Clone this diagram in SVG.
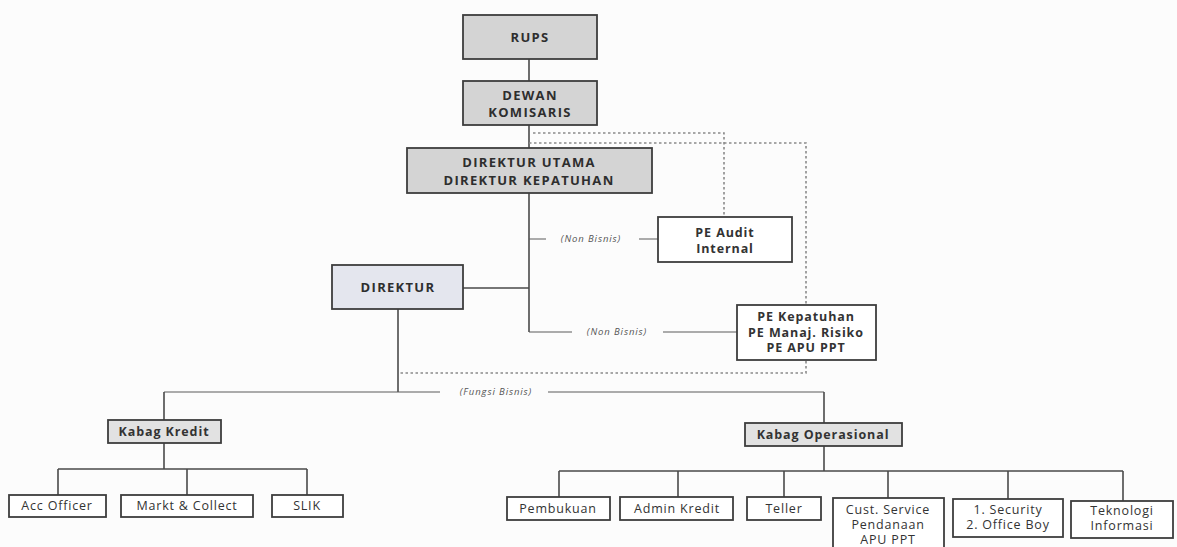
<svg xmlns="http://www.w3.org/2000/svg" width="1177" height="547" viewBox="0 0 1177 547">
<style>
.bg{fill:#fcfcfc}
.box{stroke:#3d3d3d;stroke-width:1.8}
.top{fill:#d4d4d4}
.dir{fill:#e4e6ee}
.kab{fill:#e2e2e2}
.wh{fill:#ffffff}
.ln{fill:none;stroke:#4a4a4a;stroke-width:1.6}
.thin{fill:none;stroke:#5a5a5a;stroke-width:1.1}
.dot{fill:none;stroke:#8a8a8a;stroke-width:1.6;stroke-dasharray:2.5 2.5}
.tb{font-family:"Open Sans","DejaVu Sans",sans-serif;font-weight:bold;font-size:13px;fill:#2e2e2e;text-anchor:middle;letter-spacing:1.3px}
.tt{font-family:"Open Sans","DejaVu Sans",sans-serif;font-weight:bold;font-size:12.5px;fill:#333;text-anchor:middle;letter-spacing:0.9px}
.tr{font-family:"Open Sans","DejaVu Sans",sans-serif;font-size:12.5px;fill:#333;text-anchor:middle;letter-spacing:0.8px}
.ti{font-family:"Open Sans","DejaVu Sans",sans-serif;font-style:italic;font-size:9.5px;fill:#555;text-anchor:middle;letter-spacing:0.9px}
</style>
<rect class="bg" x="0" y="0" width="1177" height="547"/>
<g id="connectors">
<path class="ln" d="M529 59V81M529 125V148M529 193V332"/>
<path class="dot" d="M533 133H724V217"/>
<path class="dot" d="M529 143H806V373H398"/>
<path class="ln" d="M463 288H529"/>
<path class="thin" d="M529 239H546M639 239H658"/>
<path class="thin" d="M529 332H572M663 332H737"/>
<path class="ln" d="M398 309V392"/>
<path class="thin" d="M164 392H440M548 392H824"/>
<path class="ln" d="M164 392V420M824 392V423"/>
<path class="ln" d="M164 443V469M58 469H307M58 469V495M187 469V495M307 469V495"/>
<path class="ln" d="M824 446V471M559 471H1123M559 471V497M678 471V497M784 471V497M888 471V498M1008 471V499M1123 471V501"/>
</g>
<g id="labels">
<text class="ti" x="591" y="242">(Non Bisnis)</text>
<text class="ti" x="617" y="335">(Non Bisnis)</text>
<text class="ti" x="496" y="395">(Fungsi Bisnis)</text>
</g>
<g id="rups"><rect class="box top" x="463" y="15" width="134" height="44"/><text class="tb" x="530" y="42">RUPS</text></g>
<g id="dewan"><rect class="box top" x="463" y="81" width="134" height="44"/><text class="tb" x="530" y="100">DEWAN</text><text class="tb" x="530" y="117">KOMISARIS</text></g>
<g id="dirut"><rect class="box top" x="407" y="148" width="245" height="45"/><text class="tb" x="529" y="167">DIREKTUR UTAMA</text><text class="tb" x="529" y="185">DIREKTUR KEPATUHAN</text></g>
<g id="audit"><rect class="box wh" x="658" y="217" width="134" height="45"/><text class="tt" x="725" y="237">PE Audit</text><text class="tt" x="725" y="253">Internal</text></g>
<g id="direktur"><rect class="box dir" x="332" y="265" width="131" height="44"/><text class="tb" x="398" y="292">DIREKTUR</text></g>
<g id="kepatuhan"><rect class="box wh" x="737" y="305" width="139" height="55"/><text class="tt" x="806" y="321">PE Kepatuhan</text><text class="tt" x="806" y="337">PE Manaj. Risiko</text><text class="tt" x="806" y="352">PE APU PPT</text></g>
<g id="kabag-kredit"><rect class="box kab" x="108" y="420" width="113" height="23"/><text class="tt" x="164" y="436">Kabag Kredit</text></g>
<g id="kabag-operasional"><rect class="box kab" x="745" y="423" width="157" height="23"/><text class="tt" x="823" y="439">Kabag Operasional</text></g>
<g id="acc-officer"><rect class="box wh" x="9" y="495" width="97" height="22"/><text class="tr" x="57" y="510">Acc Officer</text></g>
<g id="markt-collect"><rect class="box wh" x="121" y="495" width="132" height="22"/><text class="tr" x="187" y="510">Markt &amp; Collect</text></g>
<g id="slik"><rect class="box wh" x="272" y="495" width="71" height="22"/><text class="tr" x="307" y="510">SLIK</text></g>
<g id="pembukuan"><rect class="box wh" x="507" y="497" width="103" height="23"/><text class="tr" x="558" y="513">Pembukuan</text></g>
<g id="admin-kredit"><rect class="box wh" x="620" y="497" width="113" height="23"/><text class="tr" x="677" y="513">Admin Kredit</text></g>
<g id="teller"><rect class="box wh" x="747" y="497" width="74" height="23"/><text class="tr" x="784" y="513">Teller</text></g>
<g id="cust-service"><rect class="box wh" x="833" y="498" width="111" height="62"/><text class="tr" x="888" y="514">Cust. Service</text><text class="tr" x="888" y="529">Pendanaan</text><text class="tr" x="888" y="544">APU PPT</text></g>
<g id="security"><rect class="box wh" x="953" y="499" width="110" height="38"/><text class="tr" x="1008" y="514">1. Security</text><text class="tr" x="1008" y="529">2. Office Boy</text></g>
<g id="teknologi"><rect class="box wh" x="1071" y="501" width="102" height="37"/><text class="tr" x="1122" y="515">Teknologi</text><text class="tr" x="1122" y="530">Informasi</text></g>
</svg>
